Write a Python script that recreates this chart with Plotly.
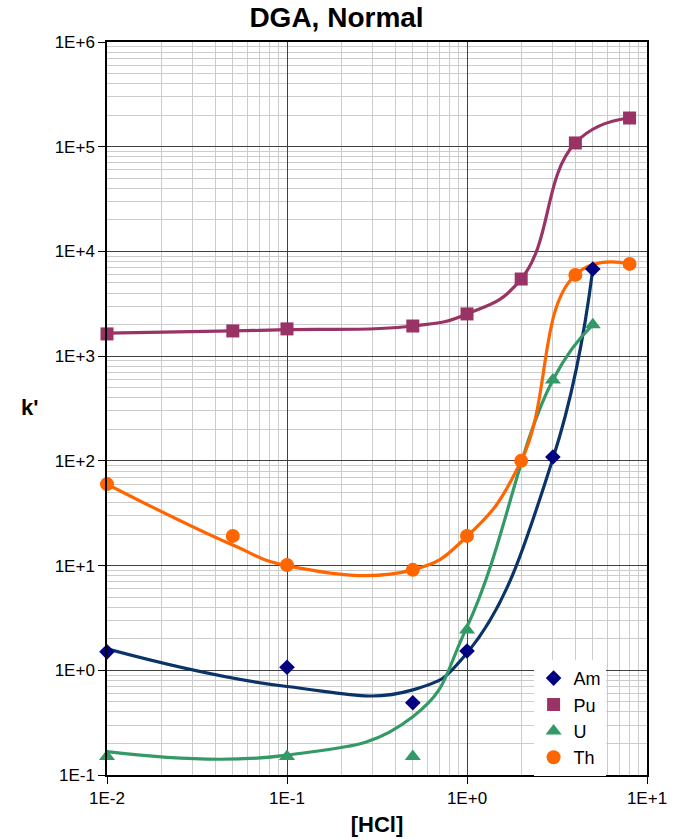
import plotly.graph_objects as go

# HCl concentrations (M)
hcl_am = [0.01, 0.1, 0.5, 1, 3, 5]
hcl_pu = [0.01, 0.05, 0.1, 0.5, 1, 2, 4, 8]
hcl_u = [0.01, 0.1, 0.5, 1, 3, 5]
hcl_th = [0.01, 0.05, 0.1, 0.5, 1, 2, 4, 8]

# measured k'
k_am = [1.5, 1.07, 0.49, 1.53, 109, 6800]
k_pu = [1630, 1740, 1820, 1940, 2530, 5450, 108600, 188000]
k_u = [0.15, 0.15, 0.15, 2.43, 593, 1990]
k_th = [60, 19.2, 10.1, 9.1, 19.2, 100, 5970, 7600]

# smoothed trend curves
fit_am = [1.6, 0.70, 0.65, 1.46, 105, 6800]
fit_pu = [1660, 1740, 1790, 1940, 2530, 5450, 108600, 188000]
fit_u = [0.167, 0.155, 0.36, 2.6, 593, 1990]
fit_th = [60, 15.7, 10, 9.1, 19, 100, 5970, 7600]

x_ticks = [0.01, 0.1, 1, 10]
x_ticktext = ["1E-2", "1E-1", "1E+0", "1E+1"]
y_ticks = [0.1, 1, 10, 100, 1e3, 1e4, 1e5, 1e6]
y_ticktext = ["1E-1", "1E+0", "1E+1", "1E+2", "1E+3", "1E+4", "1E+5", "1E+6"]

series = [
    ("Am", hcl_am, k_am, fit_am, "#000080", "#0a3368", "diamond", 12),
    ("Pu", hcl_pu, k_pu, fit_pu, "#993366", "#993366", "square", 13),
    ("U", hcl_u, k_u, fit_u, "#339966", "#339966", "triangle-up", 14),
    ("Th", hcl_th, k_th, fit_th, "#FF6600", "#FF6600", "circle", 14),
]

fig = go.Figure()

for name, xs, ks, fits, mcol, lcol, sym, size in series:
    fig.add_trace(go.Scatter(
        x=xs, y=fits, mode="lines", showlegend=False, hoverinfo="skip",
        line=dict(color=lcol, width=3.2, shape="spline", smoothing=1.3),
    ))

for name, xs, ks, fits, mcol, lcol, sym, size in series:
    fig.add_trace(go.Scatter(
        x=xs, y=ks, mode="markers", name=name, cliponaxis=False,
        marker=dict(symbol=sym, size=size, color=mcol, line=dict(width=0)),
    ))


def minor_vals(lo, hi):
    vals = []
    for e in range(lo, hi):
        for m in range(2, 10):
            vals.append(m * 10.0 ** e)
    return vals


font = "Arial, Liberation Sans, sans-serif"

fig.update_layout(
    width=673, height=839,
    margin=dict(l=107, r=26, t=42, b=64),
    paper_bgcolor="white", plot_bgcolor="white",
    font=dict(family=font, color="black", size=17),
    title=dict(text="<b>DGA, Normal</b>", x=0.5, xanchor="center",
               y=1 - 17 / 839, yanchor="middle",
               font=dict(size=28, family=font, color="black")),
    showlegend=True,
    legend=dict(x=0.79, y=0.157, xanchor="left", yanchor="top",
                bgcolor="white", borderwidth=0, tracegroupgap=0,
                itemwidth=30,
                font=dict(size=18, family=font, color="black")),
    annotations=[dict(text="<b>k'</b>", xref="paper", yref="paper",
                      x=-0.1426, y=0.5007, xanchor="center", yanchor="middle",
                      showarrow=False, font=dict(size=22, family=font, color="black"))],
)

fig.update_xaxes(
    type="log", range=[-2, 1], automargin=False,
    tickvals=x_ticks, ticktext=x_ticktext,
    ticks="outside", ticklen=7, tickcolor="black",
    showline=True, linecolor="black", linewidth=1.5, mirror=True,
    showgrid=True, gridcolor="#404040", gridwidth=1,
    minor=dict(tickvals=minor_vals(-2, 1), showgrid=True,
               gridcolor="#cccccc", gridwidth=1.3, ticks=""),
    zeroline=False,
    title=dict(text="<b>[HCl]</b>", font=dict(size=22, family=font), standoff=9),
    tickfont=dict(size=17, family=font),
)

fig.update_yaxes(
    type="log", range=[-1, 6], automargin=False,
    tickvals=y_ticks, ticktext=y_ticktext,
    ticks="outside", ticklen=7, tickcolor="black",
    showline=True, linecolor="black", linewidth=1.5, mirror=True,
    showgrid=True, gridcolor="#404040", gridwidth=1,
    minor=dict(tickvals=minor_vals(-1, 6), showgrid=True,
               gridcolor="#cccccc", gridwidth=1.3, ticks=""),
    zeroline=False,
    tickfont=dict(size=17, family=font),
)

fig.write_html("out.html")
